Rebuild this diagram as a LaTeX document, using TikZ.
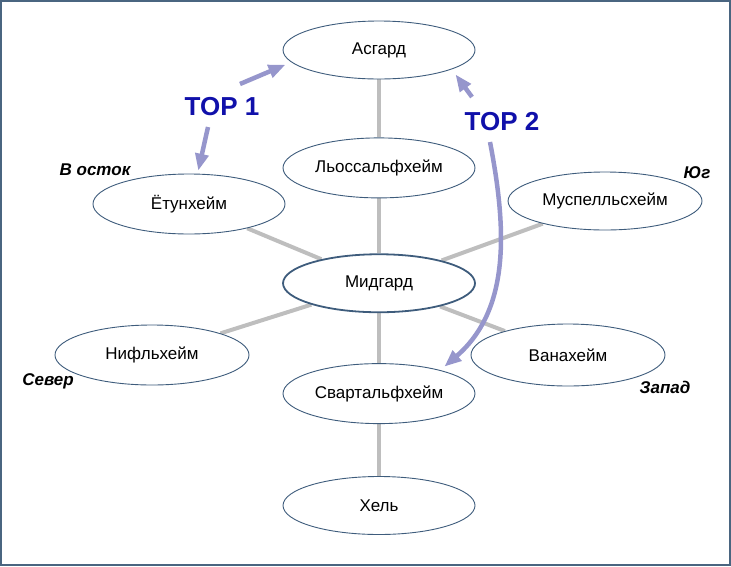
\documentclass[tikz,border=0pt]{standalone}
\usepackage{fontspec}
\setsansfont{Liberation Sans}
\usetikzlibrary{positioning,shapes.geometric,arrows.meta,backgrounds}

\definecolor{rimblue}{RGB}{62,92,124}
\definecolor{framegray}{RGB}{74,101,128}
\definecolor{linkgray}{RGB}{190,190,190}
\definecolor{lavender}{RGB}{150,150,204}
\definecolor{topblue}{RGB}{16,16,170}

\tikzset{
    % World ellipses
    world/.style={
        ellipse,
        draw=rimblue,
        fill=white,
        line width=0.9pt,
        minimum width=192pt,
        minimum height=58pt,
        inner sep=0pt,
        align=center,
        font=\sffamily\fontsize{17}{20}\selectfont
    },
    % Central world
    core/.style={
        world,
        line width=1.8pt
    },
    % Tree links
    link/.style={
        linkgray,
        line width=4pt
    },
    % Way arrows
    wayarrow/.style={
        -{Triangle[length=17pt,width=13pt]},
        lavender,
        line width=4.5pt
    },
    % Way labels
    waylabel/.style={
        font=\sffamily\bfseries\fontsize{26}{30}\selectfont,
        text=topblue
    },
    % Compass labels
    compass/.style={
        font=\sffamily\bfseries\itshape\fontsize{17}{20}\selectfont
    }
}

\begin{document}
\begin{tikzpicture}[x=1pt,y=-1pt]

\useasboundingbox (0,0) rectangle (731,566);

% === CENTRAL COLUMN ===
\node[world] (asgard) at (379,50) {Асгард};
\node[world, minimum height=60pt, below=58pt of asgard] (lyos) {Льоссальфхейм};
\node[core, below=55pt of lyos] (midgard) {Мидгард};
\node[world, minimum height=60pt, below=50pt of midgard] (svart) {Свартальфхейм};
\node[world, below=52pt of svart] (hel) {Хель};

% === OUTER WORLDS ===
\node[world, minimum height=60pt] (jotun) at (189,204) {Ётунхейм};
\node[world, minimum width=194pt] (muspel) at (605,201) {Муспелльсхейм};
\node[world, minimum width=194pt, minimum height=60pt] (nifl) at (152,355) {Нифльхейм};
\node[world, minimum width=194pt, minimum height=62pt] (vanir) at (568,355) {Ванахейм};

% === COMPASS ===
\node[compass] (east) at (95,170) {В осток};
\node[compass] (south) at (697,173) {Юг};
\node[compass] (north) at (48,381) {Север};
\node[compass] (west) at (665,387) {Запад};

% === LINKS ===
\begin{pgfonlayer}{background}
    \draw[link] (asgard) -- (lyos);
    \draw[link] (lyos) -- (midgard);
    \draw[link] (midgard) -- (svart);
    \draw[link] (svart) -- (hel);
    \draw[link] (midgard) -- (jotun);
    \draw[link] (midgard) -- (muspel);
    \draw[link] (midgard) -- (nifl);
    \draw[link] (midgard) -- (vanir);
\end{pgfonlayer}

% === WAYS ===
\node[waylabel] (top1) at (222,107) {TOP 1};
\node[waylabel] (top2) at (502,122) {TOP 2};

\coordinate (top1up) at (240,84);
\coordinate (top1down) at (208,127);
\coordinate (top2up) at (472,97);
\coordinate (top2down) at (490,142);

\draw[wayarrow] (top1up) -- ([xshift=-10pt]asgard.190);
\draw[wayarrow] (top1down) -- ([yshift=3pt]jotun.73);
\draw[wayarrow] (top2up) -- ([xshift=4pt,yshift=-5pt]asgard.345);
\draw[wayarrow] (top2down) .. controls (507,230) and (510,310) .. ([xshift=6pt,yshift=3pt]svart.22);

% === FRAME ===
\draw[framegray, line width=2pt] (1,1) rectangle (730,565);

\end{tikzpicture}
\end{document}
